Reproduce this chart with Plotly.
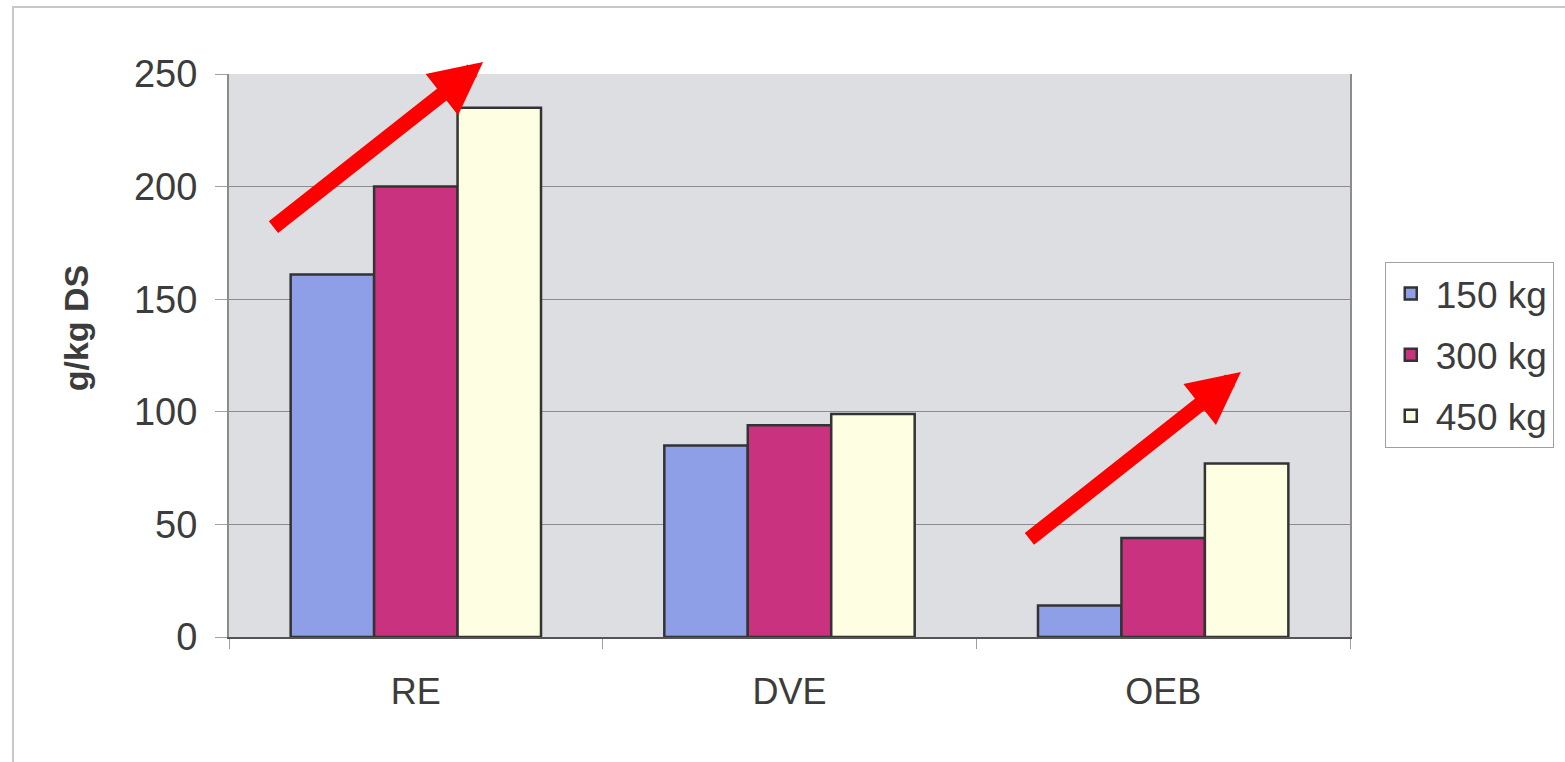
import plotly.graph_objects as go

categories = ["RE", "DVE", "OEB"]
series_names = ["150 kg", "300 kg", "450 kg"]
values_150 = [161, 85, 14]
values_300 = [200, 94, 44]
values_450 = [235, 99, 77]
y_ticks = [0, 50, 100, 150, 200, 250]

colors = ["#8e9fe8", "#c9327f", "#fefee2"]
series_values = [values_150, values_300, values_450]

font_family = "Liberation Sans, Arial, sans-serif"
text_color = "#3c3c3c"

fig = go.Figure()
for i, (name, vals) in enumerate(zip(series_names, series_values)):
    fig.add_trace(go.Bar(
        x=categories, y=vals, name=name, legendgroup=name,
        marker=dict(color=colors[i], line=dict(color="#333333", width=2.5)),
    ))

fig.update_layout(
    width=1565, height=762,
    margin=dict(l=229, r=215, t=74, b=125, autoexpand=False),
    paper_bgcolor="white",
    plot_bgcolor="#dddee2",
    barmode="group",
    bargap=0.33,
    bargroupgap=0,
    font=dict(family=font_family, color=text_color),
    showlegend=True,
    legend=dict(
        x=1.031, y=0.666, xanchor="left", yanchor="top",
        font=dict(size=37, color=text_color),
        bordercolor="#a0a0a0", borderwidth=1,
        bgcolor="white",
        tracegroupgap=10,
        itemwidth=40,
    ),
    xaxis=dict(
        tickfont=dict(size=36, color=text_color),
        ticks="outside", tickson="boundaries", ticklen=10, tickcolor="#a0a0a0",
        ticklabelstandoff=22,
        showline=True, linecolor="#555555", linewidth=2, mirror=False,
        showgrid=False,
    ),
    yaxis=dict(
        range=[0, 250], tickvals=y_ticks,
        tickfont=dict(size=38, color=text_color),
        ticks="outside", ticklen=12, tickcolor="#a0a0a0",
        ticklabelstandoff=10,
        showgrid=True, gridcolor="#8c8c8c", gridwidth=1,
        showline=True, linecolor="#8c8c8c", linewidth=2, mirror=True,
        zeroline=False,
    ),
)

# y-axis title
fig.add_annotation(text="<b>g/kg DS</b>", xref="paper", yref="paper",
                   x=-0.137, y=0.549, xanchor="center", yanchor="middle",
                   textangle=-90, showarrow=False,
                   font=dict(size=34, color=text_color))

# outer frame
fig.add_shape(type="rect", xref="paper", yref="paper",
              x0=-0.1927, x1=1.2, y0=-0.25, y1=1.119,
              line=dict(color="#c8c8c8", width=2), layer="below")

arrow_style = dict(showarrow=True, arrowhead=2, arrowsize=0.7, arrowwidth=15,
                   arrowcolor="#ff0000", xref="x", yref="y", axref="x", ayref="y",
                   text="", standoff=0)
fig.add_annotation(x=0.18, y=255.3, ax=-0.385, ay=181.5, **arrow_style)
fig.add_annotation(x=2.208, y=117.7, ax=1.638, ay=43, **arrow_style)

fig.write_html("out.html")
